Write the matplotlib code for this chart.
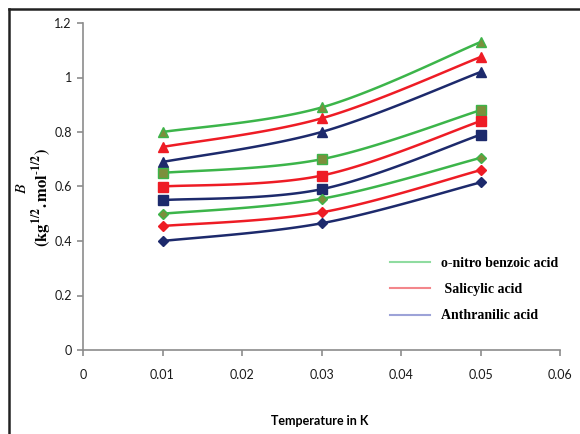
import matplotlib
matplotlib.use("Agg")
import matplotlib.pyplot as plt
import numpy as np
from matplotlib.lines import Line2D

# data
temps = [0.01, 0.03, 0.05]
green_tri = [0.80, 0.89, 1.13]
red_tri = [0.745, 0.85, 1.075]
navy_tri = [0.69, 0.80, 1.02]
green_sq = [0.65, 0.70, 0.88]
red_sq = [0.60, 0.64, 0.84]
navy_sq = [0.55, 0.59, 0.79]
green_dia = [0.50, 0.555, 0.705]
red_dia = [0.455, 0.505, 0.66]
navy_dia = [0.40, 0.465, 0.615]
legend_labels = ["o-nitro benzoic acid", " Salicylic acid", "Anthranilic acid"]

GREEN = "#3cb54a"
GREEN_FILL = "#7c8f3c"
RED = "#ee1c25"
NAVY = "#1d2a6c"

XMAX, YMAX = 0.06, 1.2


def smooth(xs, ys, n=40):
    # excel-style smoothed line: bezier segments, control points from neighbours
    px = np.array(xs) / XMAX
    py = np.array(ys) / YMAX
    pts = np.column_stack([px, py])
    out = []
    for i in range(len(pts) - 1):
        p0 = pts[i - 1] if i > 0 else pts[i]
        p1 = pts[i]
        p2 = pts[i + 1]
        p3 = pts[i + 2] if i + 2 < len(pts) else pts[i + 1]
        c1 = p1 + (p2 - p0) / 6
        c2 = p2 - (p3 - p1) / 6
        t = np.linspace(0, 1, n)[:, None]
        seg = ((1 - t) ** 3) * p1 + 3 * ((1 - t) ** 2) * t * c1 + 3 * (1 - t) * t ** 2 * c2 + t ** 3 * p2
        out.append(seg)
    out = np.vstack(out)
    return out[:, 0] * XMAX, out[:, 1] * YMAX


plt.rcParams["mathtext.fontset"] = "stix"

fig = plt.figure(figsize=(5.8, 4.34), dpi=100)
ax = fig.add_axes([83 / 580, 1 - 350 / 434, (560 - 83) / 580, (350 - 23) / 434])

series = [
    (green_tri, GREEN, GREEN_FILL, "^", 6.5),
    (red_tri, RED, RED, "^", 6.5),
    (navy_tri, NAVY, NAVY, "^", 6.5),
    (green_sq, GREEN, GREEN_FILL, "s", 6.5),
    (red_sq, RED, RED, "s", 6.5),
    (navy_sq, NAVY, NAVY, "s", 6.5),
    (green_dia, GREEN, GREEN_FILL, "D", 5),
    (red_dia, RED, RED, "D", 5),
    (navy_dia, NAVY, NAVY, "D", 5),
]
for vals, col, fill, mk, ms in series:
    sx, sy = smooth(temps, vals)
    ax.plot(sx, sy, color=col, lw=1.8, zorder=2)
    ax.plot(temps, vals, ls="none", marker=mk, ms=ms, mfc=fill, mec=col, mew=1.0, zorder=3)

ax.set_xlim(0, XMAX)
ax.set_ylim(0, YMAX)
ax.set_xticks(np.arange(0, 0.061, 0.01))
ax.set_xticklabels(["0", "0.01", "0.02", "0.03", "0.04", "0.05", "0.06"])
ax.set_yticks(np.arange(0, 1.21, 0.2))
ax.set_yticklabels(["0", "0.2", "0.4", "0.6", "0.8", "1", "1.2"])
for s in ["top", "right"]:
    ax.spines[s].set_visible(False)
for s in ["left", "bottom"]:
    ax.spines[s].set_color("#8c8c8c")
    ax.spines[s].set_linewidth(1.2)
ax.tick_params(axis="both", direction="out", length=4, width=1.2, color="#8c8c8c",
               labelsize=9, labelcolor="#1a1a1a")
ax.tick_params(axis="x", pad=10)
ax.tick_params(axis="y", pad=4)
for lab in ax.get_xticklabels() + ax.get_yticklabels():
    lab.set_fontfamily("Lato")

handles = [Line2D([], [], color=c, lw=1.5) for c in ["#8fdca0", "#f3868b", "#9da3d8"]]
leg = fig.legend(handles, legend_labels, loc="upper left", bbox_to_anchor=(390 / 580, 1 - 257 / 434),
                 frameon=False, handlelength=2.9, handletextpad=0.8, borderpad=0,
                 borderaxespad=0, labelspacing=0.95,
                 prop={"family": "Liberation Serif", "weight": "bold", "size": 10})

fig.text(320 / 580, 1 - 421 / 434, "Temperature in K", ha="center", va="center",
         fontsize=9, fontweight="bold", family="Lato")

fig.text(21 / 580, 1 - 188 / 434, r"$\mathbf{\mathit{B}}$", rotation=90, ha="center", va="center",
         fontsize=11.5)
fig.text(42 / 580, 1 - 198 / 434, r"$\mathbf{(kg^{1/2}.mol^{\text{-}1/2})}$", rotation=90,
         ha="center", va="center", fontsize=12)

# outer frame, only left and top edges are visible in the crop
fig.add_artist(Line2D([9 / 580, 9 / 580], [0, 1 - 9 / 434], color="#222222", lw=1.8))
fig.add_artist(Line2D([9 / 580, 1], [1 - 9 / 434, 1 - 9 / 434], color="#222222", lw=1.8))

fig.savefig("out.png", dpi=100)
